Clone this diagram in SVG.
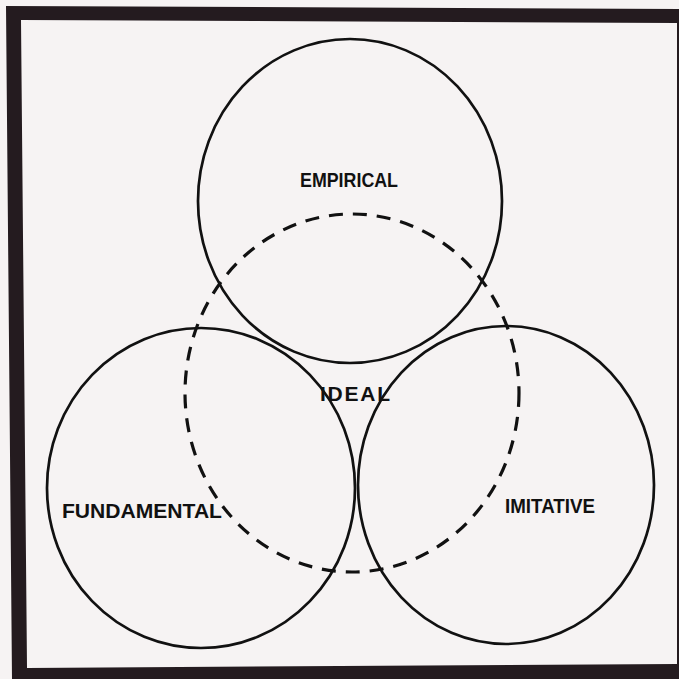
<svg xmlns="http://www.w3.org/2000/svg" width="679" height="679" viewBox="0 0 679 679">
<style>
.c{fill:none;stroke:#111;stroke-width:2.7}
.d{fill:none;stroke:#111;stroke-width:3.2;stroke-dasharray:14 10}
.t{font-family:"Liberation Sans",Arial,sans-serif;font-weight:bold;font-size:21px;fill:#111}
</style>
<rect width="679" height="679" fill="#f6f3f3"/>
<path d="M6 6 L679 9 L679 679 L12 679 Z M21 20 L677 23 L677 664 L27 668 Z" fill="#241b1f" fill-rule="evenodd"/>
<g id="connectors"></g>
<g id="empirical">
<ellipse class="c" cx="350" cy="201" rx="152" ry="162"/>
<text class="t" x="300" y="187" textLength="98" lengthAdjust="spacingAndGlyphs">EMPIRICAL</text>
</g>
<g id="fundamental">
<ellipse class="c" cx="201" cy="488" rx="154" ry="160"/>
<text class="t" x="62" y="518" textLength="160" lengthAdjust="spacingAndGlyphs">FUNDAMENTAL</text>
</g>
<g id="imitative">
<ellipse class="c" cx="506" cy="485" rx="148" ry="159"/>
<text class="t" x="505" y="513" textLength="90" lengthAdjust="spacingAndGlyphs">IMITATIVE</text>
</g>
<g id="ideal">
<ellipse class="d" cx="352" cy="393" rx="167" ry="179"/>
<text class="t" x="320" y="401" textLength="70" lengthAdjust="spacing">IDEAL</text>
</g>
</svg>
